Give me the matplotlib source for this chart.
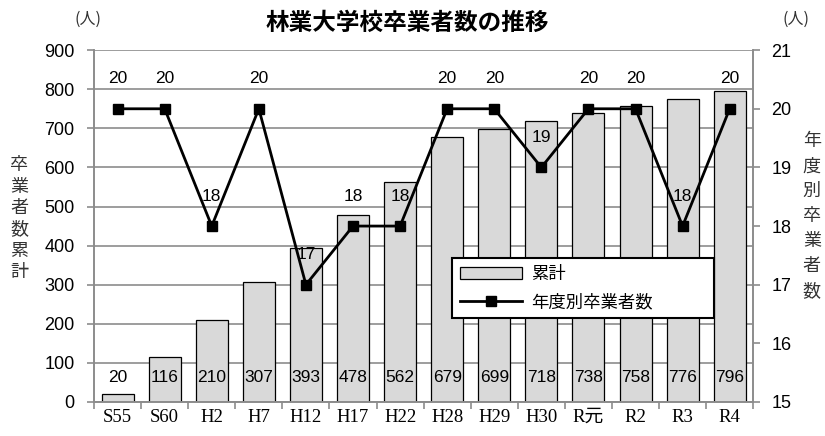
import numpy as np
import matplotlib.pyplot as plt
from matplotlib.ticker import MultipleLocator

plt.rcParams['font.family'] = ['Liberation Sans', 'Noto Sans CJK JP']

years = ['S55', 'S60', 'H2', 'H7', 'H12', 'H17', 'H22', 'H28', 'H29', 'H30',
         'R元', 'R2', 'R3', 'R4']
total = [20, 116, 210, 307, 393, 478, 562, 679, 699, 718, 738, 758, 776, 796]
graduates = [20, 20, 18, 20, 17, 18, 18, 20, 20, 19, 20, 20, 18, 20]

grid_col = '#8c8c8c'
x = np.arange(len(years))

fig = plt.figure(figsize=(8.25, 4.36), dpi=100)
ax = fig.add_axes([0.114, 0.078, 0.799, 0.807])
ax2 = ax.twinx()

bars = ax.bar(x, total, width=0.68, color='#d9d9d9', edgecolor='black',
              linewidth=0.9, label='累計', zorder=2)
line, = ax2.plot(x, graduates, color='black', lw=2, marker='s', ms=7,
                 label='年度別卒業者数', zorder=3)

# cumulative values near the bottom of each bar
for xi, v in zip(x, total):
    ax.annotate(str(v), (xi, 0), xytext=(0, 17.5), textcoords='offset points',
                ha='center', va='center', fontsize=12.5, zorder=4)

# yearly values above the markers
for xi, v in zip(x, graduates):
    ax2.annotate(str(v), (xi, v), xytext=(0, 21.5), textcoords='offset points',
                 ha='center', va='center', fontsize=12.5, zorder=4)

ax.set_xlim(-0.5, len(years) - 0.5)
ax.set_ylim(0, 900)
ax.yaxis.set_major_locator(MultipleLocator(100))
ax2.set_ylim(15, 21)
ax2.yaxis.set_major_locator(MultipleLocator(1))

ax.set_axisbelow(True)
ax.grid(axis='y', color=grid_col, lw=1.2)
ax.set_xticks(x)
ax.set_xticklabels(years, family=['Liberation Serif', 'Noto Sans CJK JP'],
                   fontsize=13.5)
ax.set_xticks(np.arange(-0.5, len(years)), minor=True)
ax.tick_params(axis='x', which='major', length=0, pad=5)
ax.tick_params(axis='x', which='minor', length=5, color=grid_col, width=1.2)
ax.tick_params(axis='y', labelsize=13, length=5, pad=9, color=grid_col,
               width=1.2)
ax2.tick_params(axis='y', labelsize=13, length=5, pad=8, color=grid_col,
                width=1.2)

for a in (ax, ax2):
    for s in a.spines.values():
        s.set_color(grid_col)
        s.set_linewidth(1.2)
    a.spines['top'].set_visible(False)

fig.text(0.494, 0.948, '林業大学校卒業者数の推移', ha='center', va='center',
         fontsize=17, fontweight='bold', family='Noto Sans CJK JP')
fig.text(0.107, 0.955, '(人)', ha='center', va='center', fontsize=11.5,
         family='Noto Sans CJK JP', color='#333333')
fig.text(0.965, 0.955, '(人)', ha='center', va='center', fontsize=11.5,
         family='Noto Sans CJK JP', color='#333333')
fig.text(0.023, 0.498, '\n'.join('卒業者数累計'), ha='center', va='center',
         fontsize=13, linespacing=1.24, family='Noto Sans CJK JP',
         color='#333333')
fig.text(0.984, 0.504, '\n'.join('年度別卒業者数'), ha='center', va='center',
         fontsize=13, linespacing=1.5, family='Noto Sans CJK JP',
         color='#333333')

leg = ax2.legend([bars, line], ['累計', '年度別卒業者数'],
                 loc='lower left', bbox_to_anchor=(0.543, 0.239, 0.398, 0.199),
                 mode='expand', borderaxespad=0, fontsize=12.5, frameon=True,
                 fancybox=False, edgecolor='black', framealpha=1,
                 handlelength=3.6, handleheight=0.6, handletextpad=0.5,
                 borderpad=0.45, labelspacing=0.65)
leg.get_frame().set_linewidth(1.5)
leg.set_zorder(10)

fig.savefig('out.png', dpi=100)
